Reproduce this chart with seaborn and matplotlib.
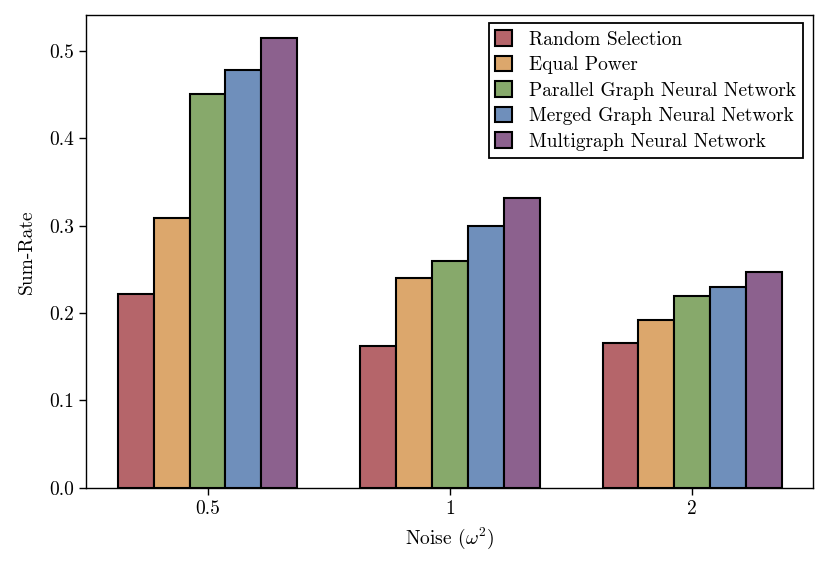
import pandas as pd
import matplotlib.pyplot as plt
import seaborn as sns

# ── Data ──────────────────────────────────────────────────────
noise_levels = ["0.5", "1", "2"]
methods = [
    "Random Selection",
    "Equal Power",
    "Parallel Graph Neural Network",
    "Merged Graph Neural Network",
    "Multigraph Neural Network",
]
random_sel = [0.222, 0.162, 0.166]
equal_power = [0.309, 0.240, 0.192]
parallel_gnn = [0.451, 0.260, 0.220]
merged_gnn = [0.478, 0.299, 0.230]
multigraph_nn = [0.515, 0.331, 0.247]

COLORS = ["#b5656a", "#dca76c", "#87a96b", "#6f8fbb", "#8c618e"]

series = [random_sel, equal_power, parallel_gnn, merged_gnn, multigraph_nn]
rows = []
for m, vals in zip(methods, series):
    for n, v in zip(noise_levels, vals):
        rows.append({"noise": n, "method": m, "rate": v})
df = pd.DataFrame(rows)

# ── Style ─────────────────────────────────────────────────────
sns.set_theme(style="ticks")
plt.rcParams.update({
    "font.family": "serif",
    "font.serif": ["cmr10", "DejaVu Serif"],
    "mathtext.fontset": "cm",
    "axes.formatter.use_mathtext": True,
    "axes.edgecolor": "black",
    "axes.linewidth": 1.0,
    "axes.labelcolor": "black",
    "text.color": "black",
    "xtick.color": "black",
    "ytick.color": "black",
})

fig = plt.figure(figsize=(8.3, 5.7), dpi=100)
ax = fig.add_axes([0.104, 0.144, 0.876, 0.830])

sns.barplot(data=df, x="noise", y="rate", hue="method",
            order=noise_levels, hue_order=methods, palette=COLORS,
            saturation=1, width=0.74, edgecolor="black", linewidth=1.5,
            ax=ax)

ax.set_xlim(-0.5, 2.5)
ax.set_ylim(0, 0.541)
ax.set_yticks([0.0, 0.1, 0.2, 0.3, 0.4, 0.5])
ax.set_yticklabels(["0.0", "0.1", "0.2", "0.3", "0.4", "0.5"])
ax.tick_params(axis="both", labelsize=14, length=5, width=1.0)

ax.set_xlabel(r"Noise ($\omega^2$)", fontsize=14, labelpad=6)
ax.set_ylabel("Sum-Rate", fontsize=14, labelpad=10)

leg = ax.legend(loc="upper right", fontsize=14, fancybox=False,
                frameon=True, handlelength=0.85, handleheight=0.85,
                handletextpad=0.9, borderpad=0.35, labelspacing=0.36,
                borderaxespad=0.3, bbox_to_anchor=(0.994, 0.994))
leg.get_frame().set_edgecolor("black")
leg.get_frame().set_linewidth(1.3)
leg.get_frame().set_alpha(1)

for side in ["top", "right", "left", "bottom"]:
    ax.spines[side].set_visible(True)
    ax.spines[side].set_color("black")

plt.savefig("out.png", dpi=100)
plt.close()
